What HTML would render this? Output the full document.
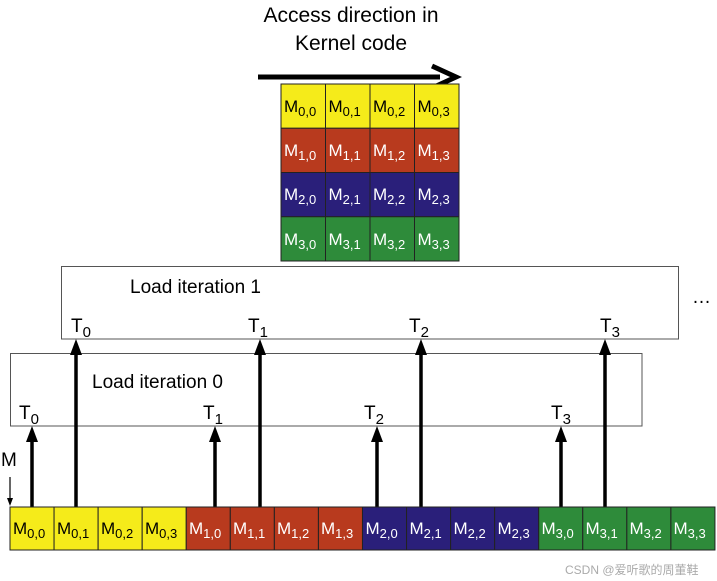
<!DOCTYPE html>
<html><head><meta charset="utf-8"><style>
html,body{margin:0;padding:0;background:#fff;}
svg{display:block;font-family:"Liberation Sans",Arial,sans-serif;}
</style></head><body>
<svg width="717" height="581" viewBox="0 0 717 581" xmlns="http://www.w3.org/2000/svg">
<defs><marker id="ah" markerWidth="4" markerHeight="4" refX="2" refY="2" orient="auto"><path d="M0,0 L4,2 L0,4 z" fill="#000"/></marker></defs>
<text x="351" y="22" font-size="21" text-anchor="middle">Access direction in</text>
<text x="351" y="50" font-size="21" text-anchor="middle">Kernel code</text>
<line x1="258" y1="77" x2="440" y2="77" stroke="#000" stroke-width="5"/>
<path d="M432,66 L456,77 L432,88" fill="none" stroke="#000" stroke-width="5"/>
<g stroke="#222" stroke-width="1">
<rect x="281" y="84" width="44.5" height="44.25" fill="#f5eb1a"/><rect x="325.5" y="84" width="44.5" height="44.25" fill="#f5eb1a"/><rect x="370" y="84" width="44.5" height="44.25" fill="#f5eb1a"/><rect x="414.5" y="84" width="44.5" height="44.25" fill="#f5eb1a"/>
<rect x="281" y="128.25" width="44.5" height="44.25" fill="#b83a1e"/><rect x="325.5" y="128.25" width="44.5" height="44.25" fill="#b83a1e"/><rect x="370" y="128.25" width="44.5" height="44.25" fill="#b83a1e"/><rect x="414.5" y="128.25" width="44.5" height="44.25" fill="#b83a1e"/>
<rect x="281" y="172.5" width="44.5" height="44.25" fill="#2a1f7a"/><rect x="325.5" y="172.5" width="44.5" height="44.25" fill="#2a1f7a"/><rect x="370" y="172.5" width="44.5" height="44.25" fill="#2a1f7a"/><rect x="414.5" y="172.5" width="44.5" height="44.25" fill="#2a1f7a"/>
<rect x="281" y="216.75" width="44.5" height="44.25" fill="#2e8b3a"/><rect x="325.5" y="216.75" width="44.5" height="44.25" fill="#2e8b3a"/><rect x="370" y="216.75" width="44.5" height="44.25" fill="#2e8b3a"/><rect x="414.5" y="216.75" width="44.5" height="44.25" fill="#2e8b3a"/>
</g>
<g font-size="17">
<text x="284" y="112">M<tspan font-size="13" dy="4">0,0</tspan></text><text x="328.5" y="112">M<tspan font-size="13" dy="4">0,1</tspan></text><text x="373" y="112">M<tspan font-size="13" dy="4">0,2</tspan></text><text x="417.5" y="112">M<tspan font-size="13" dy="4">0,3</tspan></text>
<g fill="#fff">
<text x="284" y="156">M<tspan font-size="13" dy="4">1,0</tspan></text><text x="328.5" y="156">M<tspan font-size="13" dy="4">1,1</tspan></text><text x="373" y="156">M<tspan font-size="13" dy="4">1,2</tspan></text><text x="417.5" y="156">M<tspan font-size="13" dy="4">1,3</tspan></text>
<text x="284" y="200">M<tspan font-size="13" dy="4">2,0</tspan></text><text x="328.5" y="200">M<tspan font-size="13" dy="4">2,1</tspan></text><text x="373" y="200">M<tspan font-size="13" dy="4">2,2</tspan></text><text x="417.5" y="200">M<tspan font-size="13" dy="4">2,3</tspan></text>
<text x="284" y="245">M<tspan font-size="13" dy="4">3,0</tspan></text><text x="328.5" y="245">M<tspan font-size="13" dy="4">3,1</tspan></text><text x="373" y="245">M<tspan font-size="13" dy="4">3,2</tspan></text><text x="417.5" y="245">M<tspan font-size="13" dy="4">3,3</tspan></text>
</g></g>
<rect x="61.5" y="266.5" width="617" height="72.5" fill="none" stroke="#555" stroke-width="1"/>
<text x="130" y="293" font-size="19">Load iteration 1</text>
<text x="692" y="303" font-size="19">…</text>
<rect x="10.5" y="353.5" width="631.5" height="72.5" fill="none" stroke="#555" stroke-width="1"/>
<text x="92" y="388" font-size="19">Load iteration 0</text>
<g font-size="19">
<text x="71" y="332">T<tspan font-size="15" dy="5">0</tspan></text>
<text x="248" y="332">T<tspan font-size="15" dy="5">1</tspan></text>
<text x="409" y="332">T<tspan font-size="15" dy="5">2</tspan></text>
<text x="600" y="332">T<tspan font-size="15" dy="5">3</tspan></text>
<text x="19" y="419">T<tspan font-size="15" dy="5">0</tspan></text>
<text x="203" y="419">T<tspan font-size="15" dy="5">1</tspan></text>
<text x="364" y="419">T<tspan font-size="15" dy="5">2</tspan></text>
<text x="551" y="419">T<tspan font-size="15" dy="5">3</tspan></text>
<text x="1" y="466">M</text>
</g>
<g stroke="#000" stroke-width="3.5">
<line x1="76" y1="507" x2="76" y2="352"/><line x1="260" y1="507" x2="260" y2="352"/><line x1="421" y1="507" x2="421" y2="352"/><line x1="605" y1="507" x2="605" y2="352"/>
<line x1="32" y1="507" x2="32" y2="438"/><line x1="215" y1="507" x2="215" y2="438"/><line x1="377" y1="507" x2="377" y2="438"/><line x1="561" y1="507" x2="561" y2="438"/>
</g>
<g fill="#000">
<path d="M70,355 L76,339 L82,355z"/><path d="M254,355 L260,339 L266,355z"/><path d="M415,355 L421,339 L427,355z"/><path d="M599,355 L605,339 L611,355z"/>
<path d="M26,442 L32,426 L38,442z"/><path d="M209,442 L215,426 L221,442z"/><path d="M371,442 L377,426 L383,442z"/><path d="M555,442 L561,426 L567,442z"/>
</g>
<line x1="10" y1="477" x2="10" y2="500" stroke="#000" stroke-width="1.2"/>
<path d="M7,498 L10,506 L13,498z" fill="#000"/>
<g stroke="#222" stroke-width="1">
<rect x="10" y="507" width="44.06" height="43" fill="#f5eb1a"/><rect x="54.06" y="507" width="44.06" height="43" fill="#f5eb1a"/><rect x="98.12" y="507" width="44.06" height="43" fill="#f5eb1a"/><rect x="142.18" y="507" width="44.06" height="43" fill="#f5eb1a"/>
<rect x="186.24" y="507" width="44.06" height="43" fill="#b83a1e"/><rect x="230.3" y="507" width="44.06" height="43" fill="#b83a1e"/><rect x="274.36" y="507" width="44.06" height="43" fill="#b83a1e"/><rect x="318.42" y="507" width="44.06" height="43" fill="#b83a1e"/>
<rect x="362.48" y="507" width="44.06" height="43" fill="#2a1f7a"/><rect x="406.54" y="507" width="44.06" height="43" fill="#2a1f7a"/><rect x="450.6" y="507" width="44.06" height="43" fill="#2a1f7a"/><rect x="494.66" y="507" width="44.06" height="43" fill="#2a1f7a"/>
<rect x="538.72" y="507" width="44.06" height="43" fill="#2e8b3a"/><rect x="582.78" y="507" width="44.06" height="43" fill="#2e8b3a"/><rect x="626.84" y="507" width="44.06" height="43" fill="#2e8b3a"/><rect x="670.9" y="507" width="44.06" height="43" fill="#2e8b3a"/>
</g>
<g font-size="17">
<text x="13" y="534">M<tspan font-size="13" dy="4">0,0</tspan></text><text x="57" y="534">M<tspan font-size="13" dy="4">0,1</tspan></text><text x="101" y="534">M<tspan font-size="13" dy="4">0,2</tspan></text><text x="145" y="534">M<tspan font-size="13" dy="4">0,3</tspan></text>
<g fill="#fff">
<text x="189" y="534">M<tspan font-size="13" dy="4">1,0</tspan></text><text x="233" y="534">M<tspan font-size="13" dy="4">1,1</tspan></text><text x="277" y="534">M<tspan font-size="13" dy="4">1,2</tspan></text><text x="321" y="534">M<tspan font-size="13" dy="4">1,3</tspan></text>
<text x="365.5" y="534">M<tspan font-size="13" dy="4">2,0</tspan></text><text x="409.5" y="534">M<tspan font-size="13" dy="4">2,1</tspan></text><text x="453.5" y="534">M<tspan font-size="13" dy="4">2,2</tspan></text><text x="497.5" y="534">M<tspan font-size="13" dy="4">2,3</tspan></text>
<text x="541.5" y="534">M<tspan font-size="13" dy="4">3,0</tspan></text><text x="585.5" y="534">M<tspan font-size="13" dy="4">3,1</tspan></text><text x="629.5" y="534">M<tspan font-size="13" dy="4">3,2</tspan></text><text x="673.5" y="534">M<tspan font-size="13" dy="4">3,3</tspan></text>
</g></g>
<text x="565" y="574" font-size="12" fill="#aaa" font-family="'Liberation Sans','Noto Sans CJK SC',sans-serif">CSDN @爱听歌的周董鞋</text>
</svg>
</body></html>
